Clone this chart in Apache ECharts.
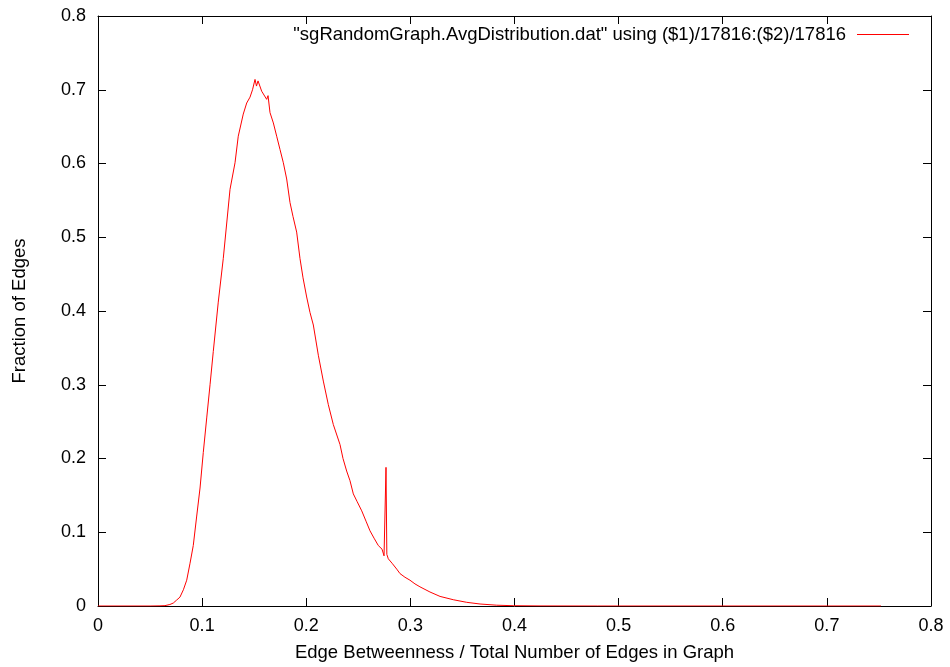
<!DOCTYPE html>
<html>
<head>
<meta charset="utf-8">
<script src="https://cdn.jsdelivr.net/npm/echarts@6/dist/echarts.min.js"></script>
<style>html,body{margin:0;padding:0;background:#fff}#c{width:950px;height:667px}</style>
</head>
<body>
<div id="c"></div>
<script>
var seriesName = '"sgRandomGraph.AvgDistribution.dat" using ($1)/17816:($2)/17816';
var xTicks = [0, 0.1, 0.2, 0.3, 0.4, 0.5, 0.6, 0.7, 0.8];
var yTicks = [0, 0.1, 0.2, 0.3, 0.4, 0.5, 0.6, 0.7, 0.8];
var xValues = [0, 0.05, 0.0595, 0.0643, 0.069, 0.0723, 0.0755, 0.0787, 0.082, 0.0852, 0.0884, 0.0915, 0.0948, 0.098, 0.1011, 0.1044, 0.1076, 0.1107, 0.1155,
  0.1203, 0.1268, 0.1316, 0.1347, 0.1395, 0.1428, 0.146, 0.1484, 0.1508, 0.1522, 0.1537, 0.1572, 0.1588, 0.162, 0.1633, 0.1652, 0.1684, 0.1716, 0.1748, 0.178,
  0.1812, 0.1844, 0.1873, 0.1908, 0.194, 0.1969, 0.2004, 0.2036, 0.2068, 0.2116, 0.2164, 0.2212, 0.226, 0.2324, 0.2353, 0.2388, 0.242, 0.2452, 0.2487, 0.2533,
  0.2574, 0.2612, 0.2651, 0.2692, 0.2728, 0.2747, 0.2761, 0.2766, 0.2774, 0.2788, 0.2824, 0.2869, 0.29, 0.2948, 0.2996, 0.3044, 0.3092, 0.3188, 0.3285, 0.3412,
  0.3541, 0.3669, 0.3829, 0.3988, 0.4245, 0.48, 0.752];
var yValues = [0, 0, 0.0002, 0.0005, 0.002, 0.004, 0.008, 0.012, 0.022, 0.035, 0.058, 0.082, 0.122, 0.160, 0.208, 0.255, 0.300, 0.345, 0.412,
  0.471, 0.565, 0.601, 0.637, 0.667, 0.682, 0.690, 0.700, 0.714, 0.705, 0.712, 0.698, 0.700, 0.687, 0.692, 0.669, 0.655, 0.637, 0.619, 0.601,
  0.579, 0.547, 0.528, 0.507, 0.471, 0.445, 0.419, 0.398, 0.381, 0.340, 0.305, 0.273, 0.246, 0.219, 0.200, 0.183, 0.170, 0.152, 0.142, 0.129,
  0.115, 0.102, 0.092, 0.082, 0.077, 0.068, 0.070, 0.188, 0.070, 0.064, 0.058, 0.050, 0.044, 0.039, 0.035, 0.030, 0.026, 0.019, 0.013, 0.0085,
  0.005, 0.0027, 0.0011, 0.0004, 0.0001, 0, 0];

var data = xValues.map(function (x, i) { return [x, yValues[i]]; });
var font = 'Liberation Sans, Arial, Helvetica, sans-serif';
var chart = echarts.init(document.getElementById('c'));
function axisBase(extra) {
  var a = {
    type: 'value', min: 0, max: 0.8, interval: 0.1,
    axisLine: { show: true, onZero: false, lineStyle: { color: '#000', width: 1 } },
    axisTick: { show: true, inside: true, length: 8, lineStyle: { color: '#000', width: 1 } },
    splitLine: { show: false },
    axisLabel: { show: false }
  };
  for (var k in extra) a[k] = extra[k];
  return a;
}
function fmt(list) {
  return function (v) { var r = Math.round(v * 10) / 10; return list.indexOf(r) >= 0 ? String(r) : ''; };
}
chart.setOption({
  animation: false,
  backgroundColor: '#fff',
  grid: { left: 98, right: 19, top: 16, bottom: 58, containLabel: false },
  legend: {
    show: true, right: 36, top: 20, align: 'right', itemWidth: 52, itemHeight: 10, itemGap: 0,
    textStyle: { fontFamily: font, fontSize: 18.5, color: '#000', padding: [0, 6, 0, 0] },
    data: [{ name: seriesName, icon: 'path://M0,5L52,5L52,6L0,6Z' }]
  },
  xAxis: [
    axisBase({
      position: 'bottom',
      name: 'Edge Betweenness / Total Number of Edges in Graph',
      nameLocation: 'middle', nameGap: 37,
      nameTextStyle: { fontFamily: font, fontSize: 18.5, color: '#000' },
      axisLabel: { show: true, margin: 11, fontFamily: font, fontSize: 18, color: '#000', formatter: fmt(xTicks) }
    }),
    axisBase({ position: 'top' })
  ],
  yAxis: [
    axisBase({
      position: 'left',
      name: 'Fraction of Edges',
      nameLocation: 'middle', nameGap: 69,
      nameTextStyle: { fontFamily: font, fontSize: 18.5, color: '#000' },
      axisLabel: { show: true, margin: 12, fontFamily: font, fontSize: 18, color: '#000', formatter: fmt(yTicks) }
    }),
    axisBase({ position: 'right' })
  ],
  series: [{
    name: seriesName, type: 'line', data: data, xAxisIndex: 0, yAxisIndex: 0,
    showSymbol: false, symbol: 'none',
    lineStyle: { color: '#ff0000', width: 1 }, itemStyle: { color: '#ff0000' }
  }]
});
</script>
</body>
</html>
